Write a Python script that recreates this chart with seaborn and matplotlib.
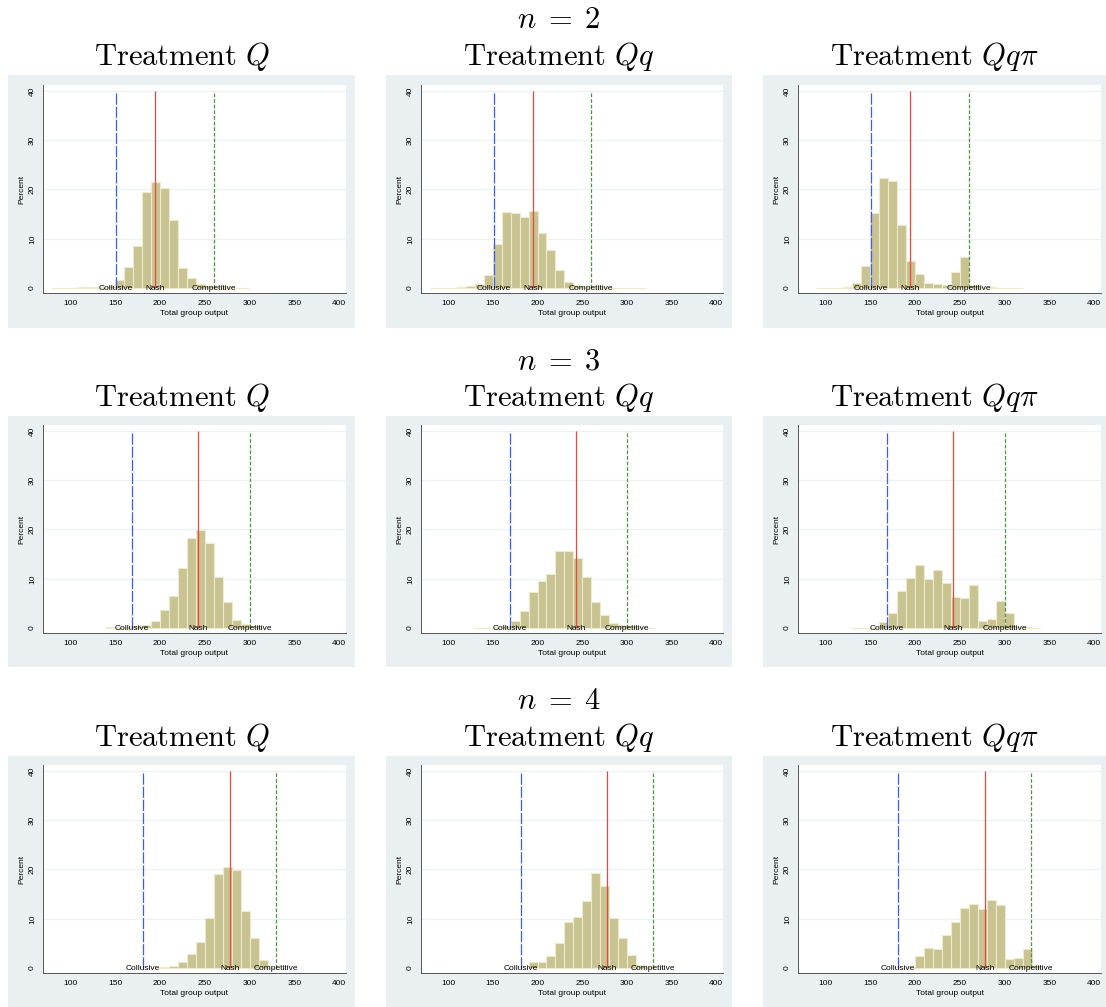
import numpy as np
import pandas as pd
import matplotlib
matplotlib.use("Agg")
import matplotlib.pyplot as plt
from matplotlib.patches import Rectangle
import seaborn as sns

# Percent of observations per 10-unit bin of total group output
# (first bin edge, then one value per bin)
n2_q_start = 80
n2_q = [0.1, 0.1, 0.1, 0.2, 0.3, 0.3, 0.5, 1.7, 4.3, 8.6, 19.4, 21.5, 20.3, 13.9, 4.1, 2.0, 0.9, 0.5, 0.3, 0.2, 0.1, 0.1]
n2_qq_start = 80
n2_qq = [0.1, 0.1, 0.1, 0.15, 0.5, 0.9, 2.6, 8.9, 15.5, 15.2, 14.4, 15.6, 11.2, 7.8, 3.7, 1.3, 0.7, 0.3, 0.2, 0.15, 0.1, 0.1, 0.1, 0.1]
n2_qqpi_start = 90
n2_qqpi = [0.1, 0.1, 0.1, 0.3, 1.1, 4.4, 15.2, 22.4, 21.7, 12.7, 5.5, 2.8, 1.0, 0.8, 0.7, 3.2, 6.3, 0.6, 0.3, 0.2, 0.1, 0.1, 0.1]

n3_q_start = 140
n3_q = [0.2, 0.2, 0.3, 0.5, 0.7, 1.4, 3.6, 6.6, 12.1, 18.2, 19.8, 17.3, 10.4, 5.3, 1.6, 0.8, 0.4, 0.1]
n3_qq_start = 130
n3_qq = [0.1, 0.1, 0.2, 0.5, 1.4, 3.4, 7.4, 9.5, 10.9, 15.7, 15.6, 14.3, 10.3, 5.2, 2.6, 1.1, 0.6, 0.4, 0.2, 0.1]
n3_qqpi_start = 130
n3_qqpi = [0.1, 0.1, 0.2, 1.2, 3.0, 7.5, 10.2, 12.7, 9.9, 11.8, 9.2, 6.3, 6.1, 8.7, 1.4, 1.8, 5.4, 3.0, 0.3, 0.2, 0.1]

n4_q_start = 190
n4_q = [0.05, 0.15, 0.5, 1.15, 2.8, 5.3, 10.1, 19.0, 20.6, 19.8, 11.5, 6.0, 1.7, 0.1]
n4_qq_start = 190
n4_qq = [1.3, 1.15, 2.4, 5.0, 9.3, 10.4, 13.6, 19.3, 16.6, 10.1, 6.2, 2.7, 0.6, 0.3]
n4_qqpi_start = 190
n4_qqpi = [0.3, 2.4, 4.1, 3.8, 6.8, 9.4, 12.2, 12.9, 12.0, 13.8, 12.7, 1.8, 2.0, 3.9, 0.5]

# benchmark outputs per group size
group_sizes = [2, 3, 4]
collusive = [151, 169, 181]
nash = [195, 243, 278]
competitive = [260, 300, 329]

treatments = [r"$\mathrm{Treatment}\ Q$", r"$\mathrm{Treatment}\ Qq$", r"$\mathrm{Treatment}\ Qq\pi$"]
bench_labels = ["Collusive", "Nash", "Competitive"]

hist_data = [
    [(n2_q_start, n2_q), (n2_qq_start, n2_qq), (n2_qqpi_start, n2_qqpi)],
    [(n3_q_start, n3_q), (n3_qq_start, n3_qq), (n3_qqpi_start, n3_qqpi)],
    [(n4_q_start, n4_q), (n4_qq_start, n4_qq), (n4_qqpi_start, n4_qqpi)],
]

sns.set_style("white")
plt.rcParams["font.family"] = ["Liberation Sans", "DejaVu Sans"]
plt.rcParams["mathtext.fontset"] = "cm"
plt.rcParams["text.color"] = "black"
plt.rcParams["axes.labelcolor"] = "black"
plt.rcParams["xtick.color"] = "black"
plt.rcParams["ytick.color"] = "black"

W, H = 1106, 1007
fig = plt.figure(figsize=(W / 100, H / 100), dpi=100)
fig.patch.set_facecolor("white")

bg_color = "#eaf0f2"
bar_color = "#c8c391"
bar_edge = "#ece9cc"

# pixel boxes (left, right) for columns, (top, bottom) for rows
col_bg = [(8, 355), (386, 732), (763, 1106)]
col_ax = [(43, 346), (421, 723), (798, 1101)]
row_bg = [(75, 328), (416, 667), (756, 1007)]
row_ax = [(85, 293), (425, 633), (765, 973)]


def fx(px):
    return px / W


def fy(py):
    return 1 - py / H


for r in range(3):
    # group size heading
    fig.text(fx(559), fy(row_bg[r][0] - 47), rf"$n\;=\;{group_sizes[r]}$", ha="center", va="baseline", fontsize=22)
    for c in range(3):
        gl, gr = col_bg[c]
        gt, gb = row_bg[r]
        fig.patches.append(Rectangle((fx(gl), fy(gb)), fx(gr - gl), (gb - gt) / H,
                                     transform=fig.transFigure, facecolor=bg_color, edgecolor="none", zorder=-5))
        fig.text(fx((gl + gr) / 2), fy(gt - 10), treatments[c], ha="center", va="baseline", fontsize=22)

        al, ar = col_ax[c]
        at, ab = row_ax[r]
        ax = fig.add_axes([fx(al), fy(ab), fx(ar - al), (ab - at) / H])
        ax.set_zorder(1)
        ax.set_facecolor("white")

        start, vals = hist_data[r][c]
        edges = [start + 10 * i for i in range(len(vals) + 1)]
        df = pd.DataFrame({"output": [e + 5 for e in edges[:-1]], "pct": vals})
        sns.histplot(data=df, x="output", weights="pct", bins=edges, ax=ax, color=bar_color,
                     edgecolor=bar_edge, linewidth=0.8, alpha=1, zorder=2)

        for y in [10, 20, 30, 40]:
            ax.axhline(y, color="#eef2f3", lw=0.9, zorder=1)

        ax.vlines(collusive[r], 0, 40, colors="#3d5cf2", linestyles=[(0, (9, 1.5))], lw=0.9, zorder=3)
        ax.vlines(nash[r], 0, 40, colors="#e6483c", linestyles="solid", lw=0.9, zorder=3)
        ax.vlines(competitive[r], 0, 40, colors="#4f9440", linestyles=[(0, (3, 1.5))], lw=0.9, zorder=3)
        for xv, lab in zip([collusive[r], nash[r], competitive[r]], bench_labels):
            ax.text(xv, 0, lab, ha="center", va="center", fontsize=6, zorder=4)

        ax.set_xlim(69.6, 407.5)
        ax.set_ylim(-1.0, 41.2)
        ax.set_xticks([100, 150, 200, 250, 300, 350, 400])
        ax.set_yticks([0, 10, 20, 30, 40])
        ax.tick_params(axis="both", labelsize=6, length=3, width=0.6, color="#555555", pad=2, direction="out")
        ax.tick_params(axis="y", labelrotation=90)
        for lab in ax.get_yticklabels():
            lab.set_va("center")
        ax.set_xlabel("Total group output", fontsize=6, labelpad=2)
        ax.set_ylabel("Percent", fontsize=6, labelpad=3)
        for side in ["top", "right"]:
            ax.spines[side].set_visible(False)
        for side in ["left", "bottom"]:
            ax.spines[side].set_color("#555555")
            ax.spines[side].set_linewidth(0.7)

fig.savefig("out.png", dpi=100)
